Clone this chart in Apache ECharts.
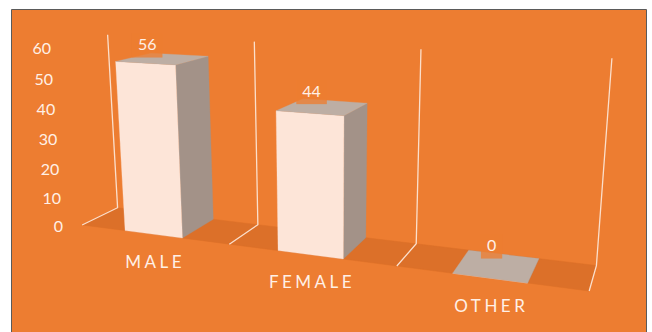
<!DOCTYPE html>
<html><head><meta charset="utf-8">
<script src="https://cdn.jsdelivr.net/npm/echarts@6/dist/echarts.min.js"></script>
<style>
html,body{margin:0;padding:0;background:#fff;}
#chart{width:652px;height:332px;}
#chart text[style*="sans-serif"]{letter-spacing:3.5px;}
</style>
</head><body><div id="chart"></div>
<script>
// ---- data ----
const categories = ['MALE', 'FEMALE', 'OTHER'];
const values = [56, 44, 0];
const yTicks = [0, 10, 20, 30, 40, 50, 60];

// ---- styling / projection constants ----
const BG = '#ED7D31', FLOOR = '#DC7029', GRID = '#FBDFCC', TXT = '#FFF0E6';
const FRONT = '#FDE5D8', SIDE = '#A39288', TOP = '#BDAEA4';
const CAM = { px: 328, py: 162, f: 930, yaw: 20.79 * Math.PI / 180, pitch: 14.12 * Math.PI / 180, cx: 1.891, cy: 1, cz: -2.575 };
const WX = 1.707, HY = 0.62, DEPTH = 0.22, BAR_W = 0.39, WALL_TOP = 1.025;
const cyw = Math.cos(CAM.yaw), syw = Math.sin(CAM.yaw), cp = Math.cos(CAM.pitch), sp = Math.sin(CAM.pitch);
const yMax = yTicks[yTicks.length - 1];

function proj(X, Y, Z) {
  const dx = X - CAM.cx, dy = Y - CAM.cy, dz = Z - CAM.cz;
  const r = dx * cyw + dz * syw;
  const fw = -dx * syw + dz * cyw;
  const zc = fw * cp - dy * sp;
  const yc = -dy * cp - fw * sp;
  return [CAM.px + CAM.f * r / zc, CAM.py + CAM.f * yc / zc];
}
function world(api) {
  const band = api.size([1, 0])[0];
  const c0 = api.coord([0, 0]);
  const x0 = c0[0] - band / 2, y0 = c0[1];
  const yTop = api.coord([0, yMax])[1];
  const n = categories.length;
  return {
    band: band,
    X: px => (px - x0) / (n * band) * WX,
    Y: py => (y0 - py) / (y0 - yTop) * HY
  };
}

const chart = echarts.init(document.getElementById('chart'), null, { renderer: 'svg', width: 652, height: 332 });
chart.setOption({
  animation: false,
  backgroundColor: '#ffffff',
  graphic: [{
    type: 'rect', z: -10, silent: true,
    shape: { x: 11.5, y: 9.5, width: 635, height: 340 },
    style: { fill: BG, stroke: '#5a5a5a', lineWidth: 1 }
  }],
  grid: { left: 40, right: 40, top: 40, bottom: 40 },
  xAxis: { type: 'category', data: categories, show: false },
  yAxis: { type: 'value', min: 0, max: yMax, interval: 10, show: false },
  series: [
    {
      type: 'custom', name: 'floor', z: 1, clip: false, silent: true,
      data: categories.map((c, i) => [i, 0]),
      renderItem: function (params, api) {
        const w = world(api);
        const i = api.value(0);
        const c = api.coord([i, 0]);
        const xl = w.X(c[0] - w.band / 2), xr = w.X(c[0] + w.band / 2);
        const children = [{
          type: 'polygon',
          shape: { points: [proj(xl, 0, 0), proj(xr, 0, 0), proj(xr, 0, DEPTH), proj(xl, 0, DEPTH)] },
          style: { fill: FLOOR, stroke: FLOOR, lineWidth: 0.5 }
        }];
        const xs = [xl];
        if (i === categories.length - 1) xs.push(xr);
        xs.forEach(x => children.push({
          type: 'polyline',
          shape: { points: [proj(x, 0, 0), proj(x, 0, DEPTH), proj(x, HY * WALL_TOP, DEPTH)] },
          style: { stroke: GRID, lineWidth: 1.3, fill: null }
        }));
        const lab = proj(w.X(c[0]), 0, 0);
        children.push({
          type: 'text',
          style: { text: categories[i], x: lab[0] + 1.75, y: lab[1] + 27, align: 'center', verticalAlign: 'middle',
                   fill: TXT, fontSize: 17, fontFamily: 'Lato, sans-serif' }
        });
        return { type: 'group', children: children };
      }
    },
    {
      type: 'custom', name: 'yLabels', z: 3, clip: false, silent: true,
      data: yTicks.map(v => [0, v]),
      renderItem: function (params, api) {
        const w = world(api);
        const p = api.coord([0, api.value(1)]);
        const q = proj(0, w.Y(p[1]), 0);
        return {
          type: 'text',
          style: { text: String(api.value(1)), x: q[0] - 19, y: q[1] + 1, align: 'right', verticalAlign: 'middle',
                   fill: TXT, fontSize: 16, fontFamily: 'Lato' }
        };
      }
    },
    {
      type: 'custom', name: 'bars', z: 5, clip: false, silent: true,
      data: values.map((v, i) => [i, v]),
      renderItem: function (params, api) {
        const w = world(api);
        const i = api.value(0), v = api.value(1);
        const c = api.coord([i, v]);
        const half = w.band * BAR_W / 2;
        const xl = w.X(c[0] - half), xr = w.X(c[0] + half), T = w.Y(c[1]);
        const front = [proj(xl, 0, 0), proj(xr, 0, 0), proj(xr, T, 0), proj(xl, T, 0)];
        const side = [proj(xr, 0, 0), proj(xr, 0, DEPTH), proj(xr, T, DEPTH), proj(xr, T, 0)];
        const top = [proj(xl, T, 0), proj(xr, T, 0), proj(xr, T, DEPTH), proj(xl, T, DEPTH)];
        const fc = proj(w.X(c[0]), T, 0);
        const bc = proj(w.X(c[0]), T, DEPTH * 0.9);
        return {
          type: 'group',
          children: [
            { type: 'polygon', shape: { points: side }, style: { fill: SIDE, stroke: SIDE, lineWidth: 0.3 } },
            { type: 'polygon', shape: { points: front }, style: { fill: FRONT, stroke: FRONT, lineWidth: 0.3 } },
            { type: 'polygon', shape: { points: top }, style: { fill: TOP, stroke: TOP, lineWidth: 0.3 } },
            {
              type: 'text',
              style: { text: String(v), x: fc[0] + 2, y: bc[1] + 2, align: 'center', verticalAlign: 'bottom',
                       fill: TXT, fontSize: 16, fontFamily: 'Lato',
                       backgroundColor: 'rgba(237,125,49,0.78)', padding: [2, 6, 6, 6] }
            }
          ]
        };
      }
    }
  ]
});
</script>
</body></html>
